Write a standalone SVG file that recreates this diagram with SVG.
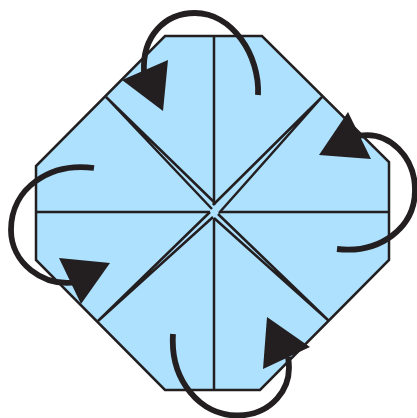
<svg xmlns="http://www.w3.org/2000/svg" width="417" height="418" viewBox="0 0 417 418">
<style>
.fold{fill:none;stroke:#231f20;stroke-width:2.5}
.arc{fill:none;stroke:#231f20;stroke-width:5.8}
.head{fill:#231f20}
</style>
<rect width="417" height="418" fill="#fff"/>
<g id="octagon">
<polygon points="165,36 262,36 389,162 389,260 260,390 165,390 36,260 36,166" fill="#ade1fe" stroke="#231f20" stroke-width="2.5"/>
</g>
<g id="folds">
<path class="fold" d="M214,36V205M214,218V390M36,212H210M220,212H389"/>
<path class="fold" d="M106,97L212,209M106,97L216,204M322,97L213,205M322,97L219,213M329,321L218,214M329,321L214,218M98,321L210,212M98,321L213,217"/>
</g>
<g id="arrows">
<g id="arrow-top"><path class="arc" d="M258,95C260,55 232,13 195,13C165,13 142,36 144,72"/><polygon class="head" points="122,80 168,60 163,111"/></g>
<g id="arrow-right"><path class="arc" d="M337,249C380,254 415,228 415,190C415,158 390,130 358,136"/><polygon class="head" points="319,155 348,112 371,159"/></g>
<g id="arrow-bottom"><path class="arc" d="M173,334C170,380 200,416 238,415.5C270,415 294,390 288,357"/><polygon class="head" points="267,317 310,347 263,369"/></g>
<g id="arrow-left"><path class="arc" d="M94,168C50,162 11,188 11,230C11,262 42,288 78,282"/><polygon class="head" points="59,258 110,263 81,304"/></g>
</g>
</svg>
